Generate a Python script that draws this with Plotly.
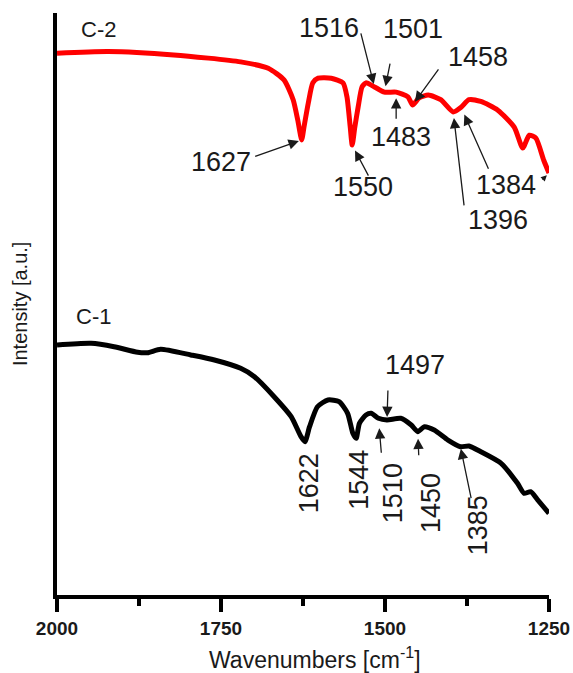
import numpy as np
import plotly.graph_objects as go

# ---- spectra (wavenumber in cm-1, intensity in a.u.) ----
c2_wavenumber = [2000, 1922, 1822, 1720, 1678, 1654, 1640, 1633, 1627, 1623.5, 1617, 1610,
                 1602, 1582, 1564, 1558, 1553, 1550, 1546, 1541, 1535, 1529, 1516, 1501,
                 1483, 1465, 1458, 1448, 1434, 1415, 1396, 1384, 1372, 1354, 1328, 1303,
                 1290, 1280, 1270, 1258, 1250]
c2_intensity = [93.1, 93.4, 92.8, 91.6, 90.5, 88.5, 85.1, 81.6, 78.2, 80.4, 84.5, 88.0,
                88.8, 88.8, 88.0, 85.6, 80.4, 77.3, 80.4, 83.8, 87.3, 88.0, 87.3, 86.4,
                86.4, 85.6, 84.2, 85.4, 85.9, 85.1, 83.0, 83.8, 85.1, 84.8, 83.3, 80.4,
                76.8, 79.0, 78.5, 74.7, 72.5]

c1_wavenumber = [2000, 1948, 1913, 1877, 1862, 1842, 1796, 1760, 1720, 1699, 1669, 1643,
                 1628, 1622, 1615, 1603, 1587, 1570, 1557, 1549, 1544, 1539, 1529, 1521,
                 1510, 1497, 1476, 1460, 1450, 1440, 1425, 1404, 1385, 1372, 1354, 1323,
                 1298, 1288, 1278, 1267, 1250]
c1_intensity = [42.96, 43.25, 42.66, 41.70, 41.63, 42.22, 41.24, 40.38, 38.95, 37.51, 34.07, 30.64,
                27.20, 26.34, 28.92, 32.35, 33.51, 33.22, 31.22, 27.78, 26.92, 29.50, 30.93, 31.22,
                30.36, 30.07, 30.36, 29.21, 28.06, 28.92, 28.35, 26.63, 25.48, 25.60, 24.62, 22.63,
                19.19, 17.47, 17.75, 16.32, 14.03]

# peak labels
c2_peaks = [1627, 1550, 1516, 1501, 1483, 1458, 1396, 1384]
c1_peaks = [1622, 1544, 1510, 1497, 1450, 1385]

x_ticks = [2000, 1750, 1500, 1250]

FONT = "Liberation Sans, Arial, sans-serif"
LABEL_SIZE = 27


def curve_at(w, xs, ys):
    xs = np.asarray(xs, dtype=float)[::-1]
    ys = np.asarray(ys, dtype=float)[::-1]
    return float(np.interp(w, xs, ys))


fig = go.Figure()
fig.add_trace(go.Scatter(x=c2_wavenumber, y=c2_intensity, mode="lines",
                         line=dict(color="#ff0000", width=5, shape="spline", smoothing=0.6),
                         showlegend=False, hoverinfo="skip"))
fig.add_trace(go.Scatter(x=c1_wavenumber, y=c1_intensity, mode="lines",
                         line=dict(color="#000000", width=5, shape="spline", smoothing=0.6),
                         showlegend=False, hoverinfo="skip"))

# label placement: text position (x, y), arrow tail offset (dx, dy px) and standoff
c2_label_style = {
    1627: dict(tx=1750, ty=74.4, arrow=(-48, 17, 3)),
    1550: dict(tx=1533.5, ty=70.1, arrow=(17, 32, 6)),
    1516: dict(tx=1585.4, ty=97.4, arrow=(-14, -55, 3)),
    1501: dict(tx=1457.3, ty=97.25, arrow=(6, -30, 6)),
    1483: dict(tx=1475.6, ty=78.7, arrow=(0, 28, 6)),
    1458: dict(tx=1358.2, ty=92.4, arrow=(27, -37, 4)),
    1396: dict(tx=1327.7, ty=64.4, arrow=(11, 95, 6)),
    1384: dict(tx=1315.5, ty=70.4, arrow=(28, 63, 8)),
}
c1_label_style = {
    1622: dict(tx=1615.9, ty=19.2, arrow=None, angle=-90),
    1544: dict(tx=1539.6, ty=19.8, arrow=None, angle=-90),
    1510: dict(tx=1487.8, ty=17.5, arrow=(3, 36, 10), angle=-90),
    1497: dict(tx=1454.3, ty=39.5, arrow=(1, -31, 3)),
    1450: dict(tx=1429.9, ty=15.8, arrow=(1, 25, 7), angle=-90),
    1385: dict(tx=1358.2, ty=12.0, arrow=(11, 53, 2), angle=-90),
}

annotations = []


def add_labels(peaks, styles, xs, ys):
    for p in peaks:
        st = styles[p]
        annotations.append(dict(
            x=st["tx"], y=st["ty"], xref="x", yref="y", text=str(p), showarrow=False,
            textangle=st.get("angle", 0), xanchor="center", yanchor="middle",
            font=dict(family=FONT, size=LABEL_SIZE, color="#1a1a1a")))
        if st["arrow"] is not None:
            dx, dy, so = st["arrow"]
            annotations.append(dict(
                x=p, y=curve_at(p, xs, ys), xref="x", yref="y", text="",
                showarrow=True, ax=dx, ay=dy, standoff=so,
                arrowhead=2, arrowsize=1.6, arrowwidth=1.3, arrowcolor="#1a1a1a"))


add_labels(c2_peaks, c2_label_style, c2_wavenumber, c2_intensity)
add_labels(c1_peaks, c1_label_style, c1_wavenumber, c1_intensity)

# small pointer at the end of the C-2 trace
annotations.append(dict(x=c2_wavenumber[-1], y=c2_intensity[-1], xref="x", yref="y", text="",
                        showarrow=True, ax=-8, ay=8, standoff=3, arrowhead=2,
                        arrowsize=1.0, arrowwidth=1.2, arrowcolor="#1a1a1a"))

# sample names
annotations.append(dict(x=1966.5, y=97.25, xref="x", yref="y", text="C-2", showarrow=False,
                        xanchor="left", yanchor="middle",
                        font=dict(family=FONT, size=22, color="#1a1a1a")))
annotations.append(dict(x=1974, y=47.9, xref="x", yref="y", text="C-1", showarrow=False,
                        xanchor="left", yanchor="middle",
                        font=dict(family=FONT, size=22, color="#1a1a1a")))

# axis titles
annotations.append(dict(x=0.525, y=-0.109, xref="paper", yref="paper",
                        text="Wavenumbers [cm<sup>-1</sup>]", showarrow=False,
                        xanchor="center", yanchor="middle",
                        font=dict(family=FONT, size=23, color="#1a1a1a")))
annotations.append(dict(x=-0.075, y=0.5, xref="paper", yref="paper",
                        text="Intensity [a.u.]", showarrow=False, textangle=-90,
                        xanchor="center", yanchor="middle",
                        font=dict(family=FONT, size=20, color="#1a1a1a")))

fig.update_layout(
    width=573, height=673,
    margin=dict(l=57, r=24, t=13, b=78, autoexpand=False),
    paper_bgcolor="white", plot_bgcolor="white",
    annotations=annotations,
    xaxis=dict(range=[2000, 1250], tickvals=x_ticks, ticktext=[str(v) for v in x_ticks],
               automargin=False,
               showline=True, linecolor="black", linewidth=4, mirror=False,
               ticks="outside", ticklen=13, tickwidth=4, tickcolor="black",
               minor=dict(ticks="outside", ticklen=7, tickwidth=4, tickcolor="black",
                          tickvals=[1875, 1625, 1375]),
               tickfont=dict(family=FONT, size=19, color="#1a1a1a", weight="bold"),
               showgrid=False, zeroline=False),
    yaxis=dict(range=[0, 100], automargin=False, showline=True, linecolor="black", linewidth=4,
               showticklabels=False, ticks="", showgrid=False, zeroline=False),
)

fig.write_html("out.html")
